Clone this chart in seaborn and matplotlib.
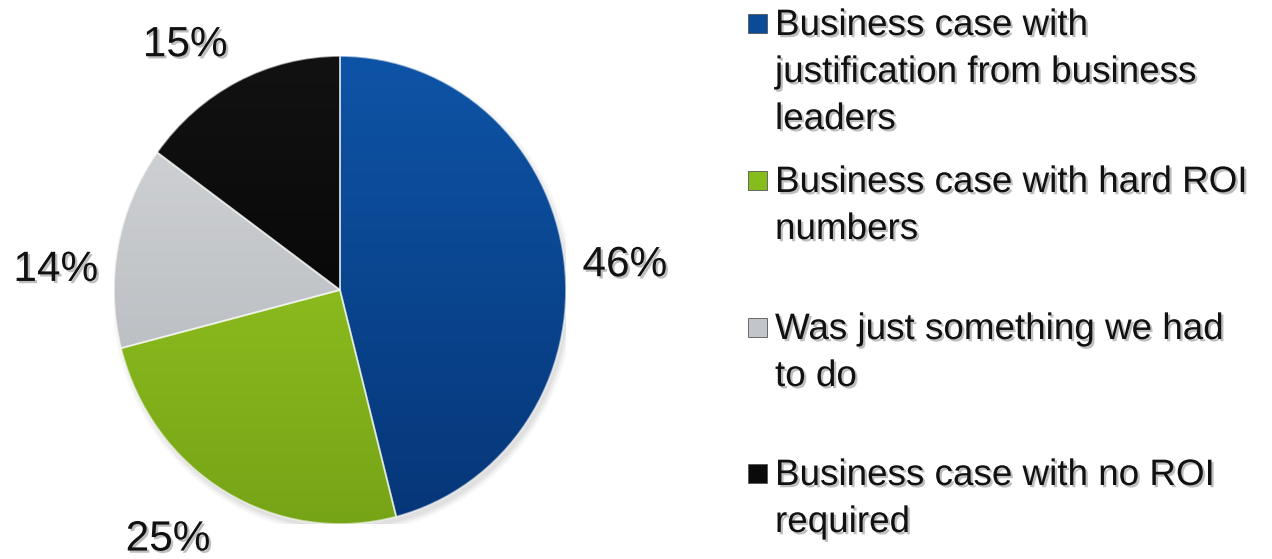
import numpy as np
import matplotlib
matplotlib.use("Agg")
import matplotlib.pyplot as plt
import matplotlib.patheffects as pe
from matplotlib.patches import Rectangle, Ellipse
from matplotlib.colors import to_rgb
import seaborn as sns

# Survey shares, drawn clockwise from 12 o'clock
categories = [
    "Business case with\njustification from business\nleaders",
    "Business case with hard ROI\nnumbers",
    "Was just something we had\nto do",
    "Business case with no ROI\nrequired",
]
values = [46, 25, 14, 15]
pct_labels = ["46%", "25%", "14%", "15%"]

# top-to-bottom shading of each slice
top_colors = ["#0E54A6", "#9ED024", "#D6D8DA", "#121212"]
bottom_colors = ["#063678", "#76A417", "#ADB1B6", "#000000"]
swatch_colors = ["#0A4A96", "#86BC1C", "#C2C5C9", "#0A0A0A"]

sns.set_theme(style="white")
plt.rcParams["font.family"] = ["Liberation Sans", "DejaVu Sans"]

W, H = 1272, 559
fig = plt.figure(figsize=(W / 100, H / 100), dpi=100)
fig.patch.set_facecolor("white")


def fx(x):
    return x / W


def fy(y):
    return 1 - y / H


# pie axes: centre (340, 290) px, radii 226 x 234 px
cx, cy, rx, ry = 340, 290, 226, 234
ax = fig.add_axes([fx(cx - rx), fy(cy + ry), 2 * rx / W, 2 * ry / H])

shadow = [pe.withSimplePatchShadow(offset=(1.6, -1.6), shadow_rgbFace="#8a8a8a", alpha=0.55)]

# soft drop shadow under the disc
for k, a in enumerate([0.10, 0.08, 0.06]):
    ax.add_patch(Ellipse((0.012, -0.022), 2.0 + 0.02 * k, 2.0 + 0.02 * k,
                         facecolor="#7a7a7a", edgecolor="none", alpha=a, zorder=0))

wedges, _ = ax.pie(
    values,
    colors=swatch_colors,
    startangle=90,
    counterclock=False,
    radius=1.0,
    wedgeprops=dict(edgecolor=(1, 1, 1, 0.55), linewidth=1.3),
)

# vertical gradient fill clipped to each slice
t = np.linspace(0, 1, 300)[:, None, None]
for w, c_top, c_bot in zip(wedges, top_colors, bottom_colors):
    img = (1 - t) * np.array(to_rgb(c_top)) + t * np.array(to_rgb(c_bot))
    im = ax.imshow(img, extent=(-1, 1, -1, 1), origin="upper",
                   aspect="auto", zorder=1, interpolation="bilinear")
    im.set_clip_path(w)
    w.set_facecolor("none")
    w.set_zorder(2)

ax.set_aspect("auto")
ax.set_xlim(-1, 1)
ax.set_ylim(-1, 1)
ax.axis("off")

# percentage labels placed around each slice's mid angle
label_radius = [1.265, 1.31, 1.26, 1.25]
angle_nudge = [-2.4, -4.9, 6.9, 6.2]
ends = np.cumsum(values)
starts = ends - np.array(values)
for lab, s, e, r, d in zip(pct_labels, starts, ends, label_radius, angle_nudge):
    mid = 90 - 360 * (s + e) / 2 / sum(values) + d
    th = np.deg2rad(mid)
    ax.text(r * np.cos(th), r * np.sin(th), lab, ha="center", va="center",
            fontsize=30.5, color="#111111", clip_on=False, path_effects=shadow)

# legend drawn as swatches and wrapped text lines
first_baseline = [35, 192, 339, 485]
line_step = 47
sw = 19
for name, col, base in zip(categories, swatch_colors, first_baseline):
    yc = base - 12
    fig.add_artist(Rectangle((fx(757 - sw / 2), fy(yc + sw / 2)), sw / W, sw / H,
                             transform=fig.transFigure, facecolor=col,
                             edgecolor="#555555", linewidth=0.6))
    for j, line in enumerate(name.split("\n")):
        fig.text(fx(775), fy(base + j * line_step), line, ha="left",
                 va="baseline", fontsize=26.5, color="#111111",
                 path_effects=shadow)

fig.savefig("out.png", dpi=100, facecolor="white")
